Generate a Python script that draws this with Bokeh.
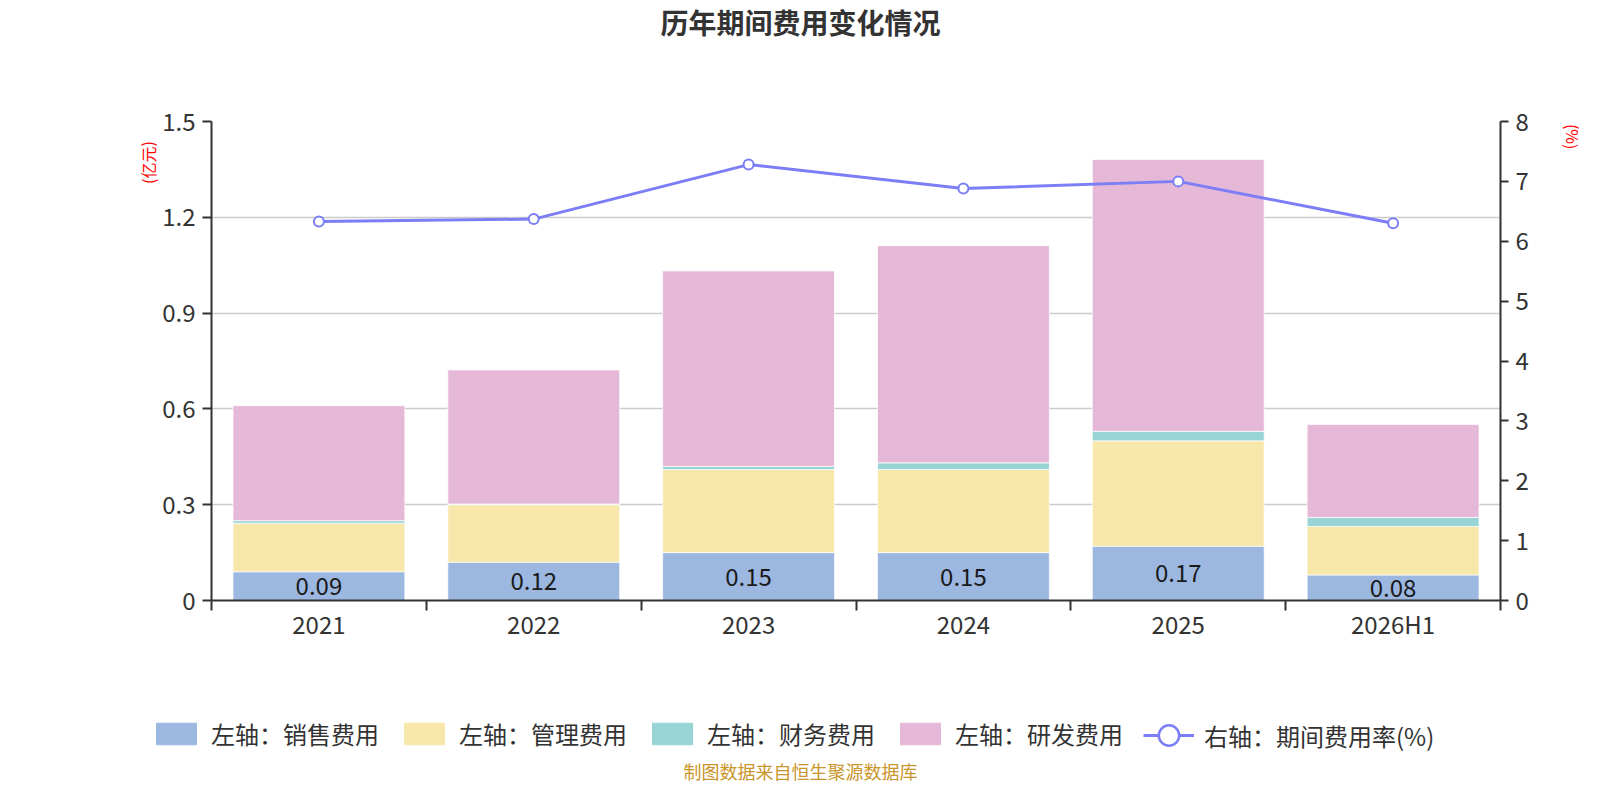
from bokeh.plotting import figure
from bokeh.layouts import column, row
from bokeh.models import (ColumnDataSource, Range1d, LinearAxis, FixedTicker, Legend, LegendItem)
from bokeh.embed import file_html
from bokeh.resources import INLINE
from bokeh.core.properties import value

# ---- data ----
categories = ["2021", "2022", "2023", "2024", "2025", "2026H1"]
sales = [0.09, 0.12, 0.15, 0.15, 0.17, 0.08]          # 销售费用 (亿元)
admin = [0.152, 0.18, 0.26, 0.26, 0.33, 0.152]        # 管理费用
finance = [0.008, 0.002, 0.01, 0.021, 0.03, 0.028]    # 财务费用
rnd = [0.36, 0.42, 0.612, 0.68, 0.851, 0.291]         # 研发费用
rate = [6.33, 6.37, 7.28, 6.88, 7.00, 6.30]           # 期间费用率 (%)
left_ticks = [0, 0.3, 0.6, 0.9, 1.2, 1.5]
right_ticks = [0, 1, 2, 3, 4, 5, 6, 7, 8]

series_names = ["左轴：销售费用", "左轴：管理费用", "左轴：财务费用", "左轴：研发费用"]
line_name = "右轴：期间费用率(%)"
title_text = "历年期间费用变化情况"
left_unit = "(亿元)"
right_unit = "(%)"
footer_text = "制图数据来自恒生聚源数据库"

colors = ["#9cb8e1", "#f8e7aa", "#98d4d5", "#e6b8d8"]
line_color = "#7b7ef6"
FONT = "Noto Sans CJK SC"

TOTAL_W = 1584
TOP_H, MID_H, BOT_H = 80, 600, 104
LEFT_W, RIGHT_W = 159, 24
MAIN_W = TOTAL_W - LEFT_W - RIGHT_W


def blank(w, h):
    f = figure(width=w, height=h, output_backend="svg", toolbar_location=None,
               x_range=Range1d(0, w), y_range=Range1d(0, h),
               x_axis_type=None, y_axis_type=None, min_border=0,
               min_border_left=0, min_border_right=0, min_border_top=0, min_border_bottom=0)
    f.outline_line_color = None
    f.grid.visible = False
    f.background_fill_color = "white"
    f.border_fill_color = "white"
    return f


# ---- title strip ----
top = blank(TOTAL_W, TOP_H)
top.text(x=[800], y=[TOP_H - 21.5], text=[title_text], text_align="center", text_baseline="middle",
         text_font=value(FONT), text_font_size="28px", text_font_style="bold", text_color="#333333")

# ---- unit strips ----
lft = blank(LEFT_W, MID_H)
lft.text(x=[147], y=[MID_H - 51.5], text=[left_unit], angle=1.5708, text_align="center",
         text_baseline="middle", text_font=value(FONT), text_font_size="16px", text_color="#ff0000")
rgt = blank(RIGHT_W, MID_H)
rgt.text(x=[12], y=[MID_H - 19], text=[right_unit], angle=-1.5708, text_align="center",
         text_baseline="middle", text_font=value(FONT), text_font_size="16px", text_color="#ff0000")

# ---- main chart ----
xs = [i + 0.5 for i in range(len(categories))]
src = ColumnDataSource(dict(x=xs, sales=sales, admin=admin, finance=finance, rnd=rnd,
                            rate=rate, lab_y=[v / 2 for v in sales],
                            lab=["%.2f" % v for v in sales]))

p = figure(width=MAIN_W, height=MID_H, output_backend="svg", toolbar_location=None,
           x_range=Range1d(0, len(categories)), y_range=Range1d(0, 1.5),
           min_border_left=52, min_border_right=60, min_border_top=41, min_border_bottom=80,
           background_fill_color="white", border_fill_color="white")
p.outline_line_color = None
p.xgrid.visible = False
p.ygrid.grid_line_color = "#cccccc"
p.ygrid.grid_line_width = 1.3
p.ygrid.ticker = FixedTicker(ticks=left_ticks)
p.extra_y_ranges = {"rate": Range1d(0, 8)}

p.vbar_stack(["sales", "admin", "finance", "rnd"], x="x", width=0.8, source=src,
             color=colors, line_color="white", line_width=1, line_alpha=0.7)
p.line("x", "rate", source=src, y_range_name="rate", line_color=line_color, line_width=3)
p.scatter("x", "rate", source=src, y_range_name="rate", size=10, fill_color="white",
          line_color=line_color, line_width=2)
p.text("x", "lab_y", text="lab", source=src, text_align="center", text_baseline="middle",
       text_font=value(FONT), text_font_size="24px", text_color="#1a1a1a")


def style_axis(ax):
    ax.axis_line_color = "#333333"
    ax.axis_line_width = 2
    ax.major_tick_line_color = "#333333"
    ax.major_tick_line_width = 2
    ax.minor_tick_line_color = "#333333"
    ax.minor_tick_line_width = 2
    ax.major_tick_in = 0
    ax.minor_tick_in = 0
    ax.major_label_text_font = FONT
    ax.major_label_text_font_size = "24px"
    ax.major_label_text_color = "#333333"


yl = p.yaxis[0]
yl.ticker = FixedTicker(ticks=left_ticks)
yl.major_label_overrides = {t: ("%g" % t) for t in left_ticks}
style_axis(yl)
yl.major_tick_out = 9
yl.minor_tick_out = 0
yl.major_label_standoff = 7

yr = LinearAxis(y_range_name="rate", ticker=FixedTicker(ticks=right_ticks))
style_axis(yr)
yr.major_tick_out = 8
yr.minor_tick_out = 0
yr.major_label_standoff = 7
p.add_layout(yr, "right")

xa = p.xaxis[0]
xa.ticker = FixedTicker(ticks=xs, minor_ticks=list(range(len(categories) + 1)))
xa.major_label_overrides = {x: c for x, c in zip(xs, categories)}
style_axis(xa)
xa.major_tick_out = 0
xa.minor_tick_out = 10
xa.major_label_standoff = -5

# ---- bottom strip: legend + footer ----
bot = blank(TOTAL_W, BOT_H)
# legend-key renderers: their single point lies outside the visible range
off = ColumnDataSource(dict(x=[-1000], y=[-1000], top=[-1000]))
items = []
for name, c in zip(series_names, colors):
    r = bot.vbar(x="x", top="top", width=1, source=off, fill_color=c, line_color=c)
    items.append(LegendItem(label=name, renderers=[r]))
legend_style = dict(orientation="horizontal", label_standoff=10, spacing=20,
                    padding=0, margin=0, border_line_color=None, background_fill_alpha=0,
                    label_text_font=FONT, label_text_font_size="24px", label_text_color="#333333")
legend = Legend(items=items, location=(151, 33), glyph_width=50, glyph_height=27, **legend_style)
bot.add_layout(legend, "center")

lg_line = bot.line("x", "y", source=off, line_color=line_color, line_width=3)
lg_pt = bot.scatter("x", "y", source=off, size=22, fill_color="white",
                    line_color=line_color, line_width=2.5)
legend2 = Legend(items=[LegendItem(label=line_name, renderers=[lg_line, lg_pt])],
                 location=(1143, 21), glyph_width=51, glyph_height=56, **legend_style)
bot.add_layout(legend2, "center")

bot.text(x=[800], y=[14], text=[footer_text], text_align="center", text_baseline="middle",
         text_font=value(FONT), text_font_size="18px", text_color="#c8962a")

layout = column(top, row(lft, p, rgt), bot)
open("out.html", "w").write(file_html(layout, INLINE))
